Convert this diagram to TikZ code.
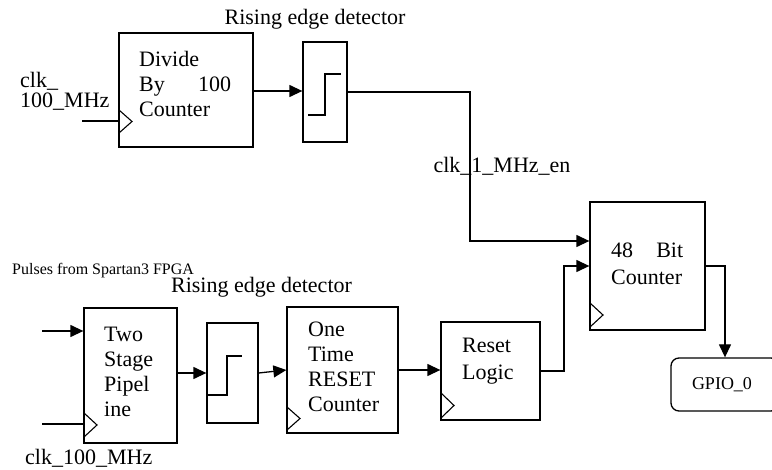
\documentclass[tikz,border=0pt]{standalone}
\usepackage{fontspec}
\setmainfont{Liberation Serif}
\usetikzlibrary{arrows.meta}
\begin{document}
\begin{tikzpicture}[x=1pt,y=-1pt,
  blk/.style={draw,line width=1.3pt,inner sep=0pt},
  wire/.style={line width=1.3pt},
  arr/.style={-{Triangle[length=13pt,width=12pt]}},
  clkmk/.style={line width=1.1pt,line join=miter},
  txt/.style={inner sep=0pt,align=left,font=\fontsize{22}{25}\selectfont}]
\useasboundingbox (0,0) rectangle (772,470);

% ---------- top row ----------
\node[txt,anchor=base] (red1lbl) at (315,25) {Rising edge detector};
\node[txt,anchor=base west,font=\fontsize{22}{20}\selectfont] (clkin1) at (20,108) {clk\_\\100\_MHz};

\node[blk,minimum width=134pt,minimum height=114pt] (div) at (186,90) {};
\node[txt,anchor=base west] (divt) at (139,117) {Divide\\\makebox[92pt][s]{By 100}\\Counter};
\draw[clkmk] (119,110) -- (132,121.5) -- (119,133);
\coordinate (in1) at (82,121);
\draw[wire] (in1) -- (in1 -| div.west);

\node[blk,minimum width=44pt,minimum height=100pt] (red1) at (325,92) {};
\draw[wire] (308,115) -- (325,115) -- (325,74) -- (341,74);
\draw[wire,arr] (div.east |- 0,91) -- (red1.west |- 0,91);

\node[txt,anchor=base] (en) at (502,173) {clk\_1\_MHz\_en};

\node[blk,minimum width=115pt,minimum height=128pt] (cnt) at (647.5,266) {};
\node[txt,anchor=base west,font=\fontsize{22}{27}\selectfont] (cntt) at (611,285) {\makebox[72pt][s]{48 Bit}\\Counter};
\draw[clkmk] (590,303) -- (603,315) -- (590,327);

\draw[wire,arr] (red1.east) -| (470,241) -- (cnt.west |- 470,241);

\node[draw,line width=1.3pt,rounded corners=8pt,minimum width=108pt,minimum height=53pt,inner sep=0pt] (gpio) at (725,384.5) {};
\node[anchor=base,inner sep=0pt,font=\fontsize{18}{20}\selectfont] (gpiot) at (722,390) {GPIO\_0};
\draw[wire,arr] (cnt.east) -| (gpio.north);

% ---------- bottom row ----------
\node[anchor=base west,inner sep=0pt,font=\fontsize{16}{18}\selectfont] (pulses) at (12,275) {Pulses from Spartan3 FPGA};
\node[txt,anchor=base] (red2lbl) at (261.5,293) {Rising edge detector};

\node[blk,minimum width=93pt,minimum height=135pt] (ts) at (130.5,375.5) {};
\node[txt,anchor=base west] (tst) at (104,417) {Two\\Stage\\Pipel\\ine};
\coordinate (in2) at (42,331);
\draw[wire,arr] (in2) -- (in2 -| ts.west);
\coordinate (in3) at (42,424);
\draw[wire] (in3) -- (in3 -| ts.west);
\draw[clkmk] (84,413) -- (97,425) -- (84,437);
\node[txt,anchor=base west] (clkin2) at (25,465) {clk\_100\_MHz};

\node[blk,minimum width=51pt,minimum height=100pt] (red2) at (232.5,373) {};
\draw[wire] (208,395) -- (227,395) -- (227,356) -- (242,356);
\draw[wire,arr] (ts.east |- red2.west) -- (red2.west);

\node[blk,minimum width=111pt,minimum height=126pt] (one) at (342.5,370) {};
\node[txt,anchor=base west] (onet) at (308,412) {One\\Time\\RESET\\Counter};
\draw[clkmk] (287,407) -- (300,418.5) -- (287,430);
\draw[wire,arr] (red2.east) -- (one.west);

\node[blk,minimum width=99pt,minimum height=98pt] (rl) at (490.5,371) {};
\node[txt,anchor=base west,font=\fontsize{22}{27}\selectfont] (rlt) at (462,380) {Reset\\Logic};
\draw[clkmk] (441,393) -- (454,405.5) -- (441,418);
\draw[wire,arr] (one.east) -- (one.east -| rl.west);
\draw[wire,arr] (rl.east) -| (564,266) -- (cnt.west);
\end{tikzpicture}
\end{document}
